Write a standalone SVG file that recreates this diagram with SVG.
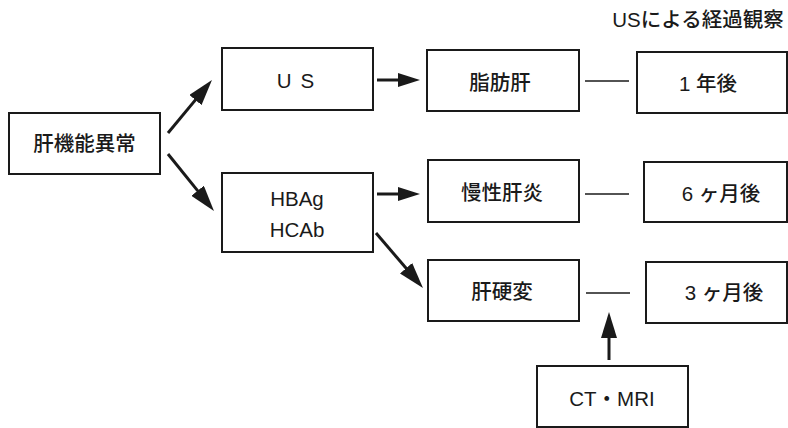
<svg xmlns="http://www.w3.org/2000/svg" width="788" height="428" viewBox="0 0 788 428">
<style>
.box{fill:#fff;stroke:#1a1a1a;stroke-width:2}
.t{font-family:"Liberation Sans","Noto Sans CJK JP",sans-serif;font-size:20.5px;font-weight:500;fill:#1a1a1a;text-anchor:middle;dominant-baseline:central}
.arr{stroke:#1a1a1a;stroke-width:3;fill:none}
.ln{stroke:#1a1a1a;stroke-width:1.5}
</style>
<defs>
<marker id="ah" markerUnits="userSpaceOnUse" markerWidth="22" markerHeight="14" refX="6" refY="7" orient="auto" viewBox="0 0 22 14"><path d="M0,0 L22,7 L0,14 z" fill="#1a1a1a"/></marker>
<marker id="ahb" markerUnits="userSpaceOnUse" markerWidth="26" markerHeight="16" refX="6" refY="8" orient="auto" viewBox="0 0 26 16"><path d="M0,0 L26,8 L0,16 z" fill="#1a1a1a"/></marker>
</defs>
<text class="t" x="698" y="19" style="font-size:20.5px">USによる経過観察</text>
<g id="liver"><rect class="box" x="9" y="113" width="151" height="61"/><text class="t" x="84.5" y="143">肝機能異常</text></g>
<g id="us"><rect class="box" x="222" y="48" width="151" height="62"/><text class="t" x="300" y="80" style="letter-spacing:9px">US</text></g>
<g id="hb"><rect class="box" x="222" y="173" width="151" height="79"/><text class="t" x="297" y="198">HBAg</text><text class="t" x="297" y="229">HCAb</text></g>
<g id="fatty"><rect class="box" x="427" y="50" width="152" height="61"/><text class="t" x="500" y="82">脂肪肝</text></g>
<g id="chronic"><rect class="box" x="428" y="160" width="151" height="62"/><text class="t" x="502" y="192">慢性肝炎</text></g>
<g id="cirr"><rect class="box" x="428" y="260" width="151" height="61"/><text class="t" x="502" y="291">肝硬変</text></g>
<g id="y1"><rect class="box" x="637" y="52" width="150" height="61"/><text class="t" x="708" y="83">1 年後</text></g>
<g id="m6"><rect class="box" x="644" y="162" width="143" height="60"/><text class="t" x="721" y="193">6 ヶ月後</text></g>
<g id="m3"><rect class="box" x="646" y="262" width="141" height="61"/><text class="t" x="724" y="292">3 ヶ月後</text></g>
<g id="ctmri"><rect class="box" x="537" y="366" width="151" height="61"/><text class="t" x="612" y="398">CT・MRI</text></g>
<g id="connectors">
<line class="arr" x1="168" y1="133" x2="199.2" y2="95.4" marker-end="url(#ahb)"/>
<line class="arr" x1="168" y1="154" x2="201.4" y2="195.4" marker-end="url(#ahb)"/>
<line class="arr" x1="377" y1="80" x2="404" y2="80" marker-end="url(#ah)"/>
<line class="arr" x1="377" y1="194" x2="404" y2="194" marker-end="url(#ah)"/>
<line class="arr" x1="376" y1="233" x2="410" y2="272.8" marker-end="url(#ahb)"/>
<line class="arr" x1="609" y1="360" x2="609" y2="332" marker-end="url(#ahb)"/>
<line class="ln" x1="585" y1="81" x2="629" y2="81"/>
<line class="ln" x1="585" y1="194" x2="629" y2="194"/>
<line class="ln" x1="586" y1="293" x2="630" y2="293"/>
</g>
</svg>
